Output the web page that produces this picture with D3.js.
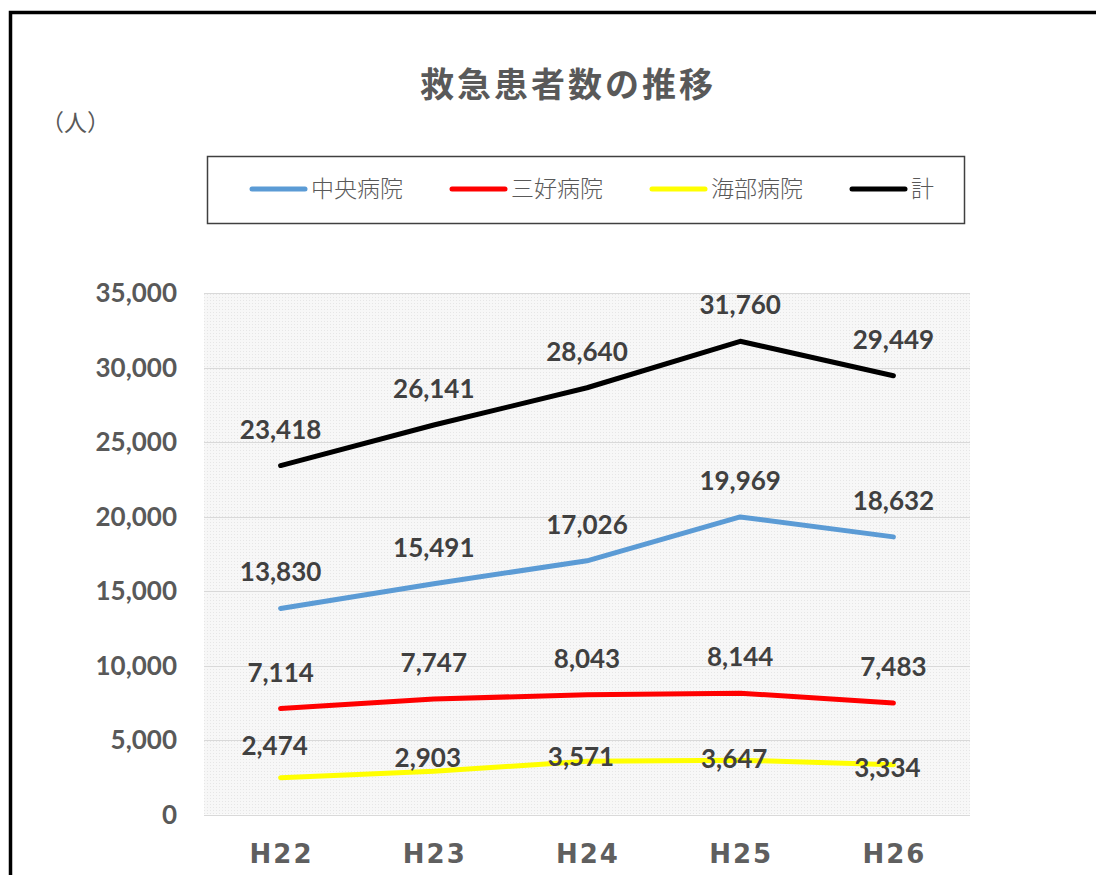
<!DOCTYPE html>
<html>
<head>
<meta charset="utf-8">
<script src="https://cdn.jsdelivr.net/npm/d3@7"></script>
<style>
  body { margin: 0; background: #fff; }
  svg { display: block; }
</style>
</head>
<body>
<div id="chart"></div>
<script>
// data
const years = ["H22", "H23", "H24", "H25", "H26"];
const seriesNames = ["中央病院", "三好病院", "海部病院", "計"];
const chuo = [13830, 15491, 17026, 19969, 18632];
const miyoshi = [7114, 7747, 8043, 8144, 7483];
const kaifu = [2474, 2903, 3571, 3647, 3334];
const total = [23418, 26141, 28640, 31760, 29449];
const yTicks = [0, 5000, 10000, 15000, 20000, 25000, 30000, 35000];

const colors = ["#5b9bd5", "#ff0000", "#ffff00", "#000000"];
const allSeries = [chuo, miyoshi, kaifu, total];

const width = 1096, height = 875;
const plot = {left: 204, right: 970, top: 293, bottom: 814.5};

const svg = d3.select("#chart").append("svg")
    .attr("width", width)
    .attr("height", height);

// outer frame (runs off the page on the right and bottom)
svg.append("rect")
    .attr("x", 10.5).attr("y", 12.5)
    .attr("width", 1200).attr("height", 1000)
    .attr("fill", "none")
    .attr("stroke", "#000")
    .attr("stroke-width", 3.5);

const x = d3.scalePoint()
    .domain(years)
    .range([plot.left, plot.right])
    .padding(0.5);

const y = d3.scaleLinear()
    .domain([0, 35000])
    .range([plot.bottom, plot.top]);

// plot background with fine dot pattern
const defs = svg.append("defs");
const pat = defs.append("pattern")
    .attr("id", "dots")
    .attr("width", 3).attr("height", 3)
    .attr("patternUnits", "userSpaceOnUse");
pat.append("rect").attr("width", 3).attr("height", 3).attr("fill", "#f7f7f7");
pat.append("rect").attr("width", 1).attr("height", 1).attr("fill", "#e6e6e6");

svg.append("rect")
    .attr("x", plot.left).attr("y", plot.top)
    .attr("width", plot.right - plot.left)
    .attr("height", plot.bottom - plot.top)
    .attr("fill", "url(#dots)");

// gridlines
svg.append("g")
    .selectAll("line")
    .data(yTicks)
    .join("line")
    .attr("x1", plot.left).attr("x2", plot.right)
    .attr("y1", d => Math.round(y(d)) + 0.5)
    .attr("y2", d => Math.round(y(d)) + 0.5)
    .attr("stroke", "#d9d9d9")
    .attr("stroke-width", 1);

// y axis labels
const fmt = d3.format(",");
svg.append("g")
    .selectAll("text")
    .data(yTicks)
    .join("text")
    .attr("x", 177)
    .attr("y", d => y(d))
    .attr("dy", "0.36em")
    .attr("text-anchor", "end")
    .attr("font-family", "Lato, 'Open Sans', sans-serif")
    .attr("font-weight", "bold")
    .attr("font-size", 26)
    .attr("fill", "#595959")
    .text(d => fmt(d));

// x axis labels
svg.append("g")
    .selectAll("text")
    .data(years)
    .join("text")
    .attr("x", d => x(d) + 1)
    .attr("y", 863)
    .attr("text-anchor", "middle")
    .attr("font-family", "'DejaVu Sans', sans-serif")
    .attr("font-weight", "bold")
    .attr("font-size", 26)
    .attr("letter-spacing", 2)
    .attr("fill", "#5f5f5f")
    .text(d => d);

// lines
const line = d3.line()
    .x((d, i) => x(years[i]))
    .y(d => y(d));

svg.append("g")
    .selectAll("path")
    .data(allSeries)
    .join("path")
    .attr("d", line)
    .attr("fill", "none")
    .attr("stroke", (d, i) => colors[i])
    .attr("stroke-width", 5)
    .attr("stroke-linecap", "round")
    .attr("stroke-linejoin", "round");

// data labels: above the point, except the 海部病院 labels that sit on the line
const kaifuDy = [-23, -4, 5, 8, 12];
const kaifuDx = -6;
const labels = [];
allSeries.forEach((vals, s) => {
    vals.forEach((v, i) => {
        const isKaifu = s === 2;
        labels.push({
            x: x(years[i]) + (isKaifu ? kaifuDx : 0),
            y: y(v) + (isKaifu ? kaifuDy[i] : -27),
            v: v
        });
    });
});

svg.append("g")
    .selectAll("text")
    .data(labels)
    .join("text")
    .attr("x", d => d.x)
    .attr("y", d => d.y)
    .attr("text-anchor", "middle")
    .attr("font-family", "Lato, 'Open Sans', sans-serif")
    .attr("font-weight", "bold")
    .attr("font-size", 26)
    .attr("fill", "#404040")
    .text(d => fmt(d.v));

// title
svg.append("text")
    .attr("x", 568)
    .attr("y", 97)
    .attr("text-anchor", "middle")
    .attr("font-family", "'Noto Sans CJK JP', sans-serif")
    .attr("font-weight", "bold")
    .attr("font-size", 34)
    .attr("letter-spacing", 3)
    .attr("fill", "#595959")
    .text("救急患者数の推移");

// unit
svg.append("text")
    .attr("x", 41)
    .attr("y", 131)
    .attr("font-family", "'Noto Sans CJK JP', sans-serif")
    .attr("font-size", 23)
    .attr("fill", "#595959")
    .text("（人）");

// legend
svg.append("rect")
    .attr("x", 207.5).attr("y", 156.5)
    .attr("width", 757).attr("height", 67)
    .attr("fill", "#fff")
    .attr("stroke", "#404040")
    .attr("stroke-width", 1.5);

const legend = svg.append("g")
    .selectAll("g")
    .data(seriesNames)
    .join("g")
    .attr("transform", (d, i) => `translate(${252 + i * 200},189)`);

legend.append("line")
    .attr("x1", 0).attr("x2", 53)
    .attr("stroke", (d, i) => colors[i])
    .attr("stroke-width", 5)
    .attr("stroke-linecap", "round");

legend.append("text")
    .attr("x", 59)
    .attr("y", 0)
    .attr("dy", "0.36em")
    .attr("font-family", "'Noto Sans CJK JP', sans-serif")
    .attr("font-weight", 300)
    .attr("font-size", 23)
    .attr("fill", "#595959")
    .text(d => d);
</script>
</body>
</html>
